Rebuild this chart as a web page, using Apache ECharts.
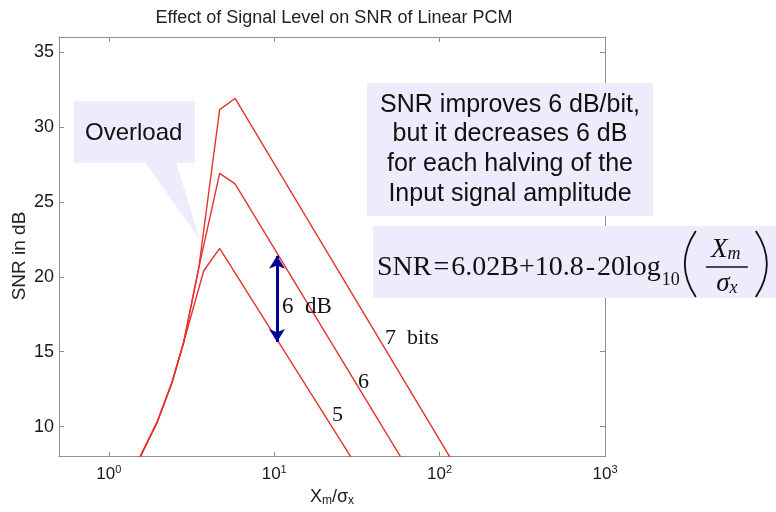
<!DOCTYPE html>
<html><head><meta charset="utf-8">
<script src="https://cdn.jsdelivr.net/npm/echarts@6/dist/echarts.min.js"></script>
<style>html,body{margin:0;padding:0;background:#fff}#c{width:776px;height:512px}</style>
</head><body><div id="c"></div>
<script>
// ---- data ----
const chartTitle = 'Effect of Signal Level on SNR of Linear PCM';
const yAxisTitle = 'SNR in dB';
const xRange = [0.5, 1000];
const yRange = [8, 36];
// 7-bit curve
const xRatio7 = [1.55, 1.96, 2.42, 2.84, 3.5, 4.68, 5.8, 115];
const snr7    = [8.0, 10.3, 13.0, 15.65, 20.6, 31.15, 31.9, 8.0];
// 6-bit curve
const xRatio6 = [1.55, 1.96, 2.42, 2.84, 3.5, 4.68, 5.8, 58];
const snr6    = [8.0, 10.3, 13.0, 15.65, 20.6, 26.9, 26.2, 8.0];
// 5-bit curve
const xRatio5 = [1.55, 1.96, 2.42, 2.84, 3.75, 4.68, 29];
const snr5    = [8.0, 10.3, 13.0, 15.65, 20.4, 21.9, 8.0];
// 6 dB arrow (x position, y from..to)
const arrowX = 10.4;
const arrowSpan = [21.4, 15.65];
const curveLabels = ['7\u2002bits', '6', '5'];
const noteLines = ['SNR improves 6 dB/bit,', 'but it decreases 6 dB', 'for each halving of the', 'Input signal amplitude'];
const overloadText = 'Overload';
const formulaParts = ['SNR', '=', '6.02B+10.8', '-', '20log'];

// ---- styling ----
const axisColor = '#909090';
const red = '#e8302e';
const boxFill = '#ececfc';
const fontSans = '"Liberation Sans", Arial, Helvetica, sans-serif';
const fontSerif = '"Liberation Serif", "Times New Roman", serif';

function pairs(xs, ys) { return xs.map((x, i) => [x, ys[i]]); }
function powLabel(v) {
  const l = Math.log10(v); const e = Math.round(l);
  if (Math.abs(l - e) > 1e-6) return '';
  return '{b|10}{s|' + e + '}';
}
function fiveLabel(v) { return Math.abs(v / 5 - Math.round(v / 5)) < 1e-9 ? String(v) : ''; }

const fSize = 28, opPad = 2;
const ctx = document.createElement('canvas').getContext('2d');
ctx.font = fSize + 'px ' + fontSerif;
const fW = ctx.measureText(formulaParts.join('')).width + 4 * opPad;
const fX = 377;
const fText = '{a|' + formulaParts[0] + '}{o|' + formulaParts[1] + '}{a|' + formulaParts[2] + '}{o|' + formulaParts[3] + '}{a|' + formulaParts[4] + '}';

const chart = echarts.init(document.getElementById('c'), null, {renderer: 'canvas'});
const baseX = {
  type: 'log', logBase: 10, min: xRange[0], max: xRange[1],
  axisLine: {show: true, lineStyle: {color: axisColor, width: 1}},
  axisTick: {show: true, inside: true, length: 5, lineStyle: {color: axisColor}},
  minorTick: {show: false}, splitLine: {show: false}, minorSplitLine: {show: false}
};
const baseY = {
  type: 'value', min: yRange[0], max: yRange[1], splitNumber: 5,
  axisLine: {show: true, lineStyle: {color: axisColor, width: 1}},
  axisTick: {show: true, inside: true, length: 5, lineStyle: {color: axisColor}},
  splitLine: {show: false}
};
const lineSeries = (name, xs, ys) => ({
  name, type: 'line', data: pairs(xs, ys), symbol: 'none', showSymbol: false,
  lineStyle: {color: red, width: 1.4}, itemStyle: {color: red}, clip: true, z: 3, silent: true
});
const s5 = lineSeries('5 bits', xRatio5, snr5);
s5.markLine = {
  silent: true, symbol: ['arrow', 'arrow'], symbolSize: [12, 13], animation: false,
  lineStyle: {color: '#000095', width: 3, type: 'solid'}, label: {show: false},
  data: [[{coord: [arrowX, arrowSpan[0]]}, {coord: [arrowX, arrowSpan[1]]}]]
};

const g = [];
// Overload callout
g.push({type: 'polygon', z: 1, shape: {points: [[145, 162], [176, 162], [200, 240]]}, style: {fill: boxFill}});
g.push({type: 'rect', z: 1, shape: {x: 74, y: 101, width: 121, height: 62}, style: {fill: boxFill}});
g.push({type: 'text', z: 1, x: 85, y: 133, style: {text: overloadText, font: '24px ' + fontSans, fill: '#111', align: 'left', verticalAlign: 'middle'}});
// note box
g.push({type: 'rect', z: 50, shape: {x: 367, y: 83, width: 286, height: 133}, style: {fill: boxFill}});
noteLines.forEach((t, i) => g.push({type: 'text', z: 51, x: 510, y: 105 + i * 29.6,
  style: {text: t, font: '25px ' + fontSans, fill: '#111', align: 'center', verticalAlign: 'middle'}}));
// formula box
g.push({type: 'rect', z: 50, shape: {x: 373, y: 226, width: 403, height: 72}, style: {fill: boxFill}});
g.push({type: 'text', z: 51, x: fX, y: 268, style: {text: fText, fill: '#111', align: 'left', verticalAlign: 'middle',
  rich: {a: {font: fSize + 'px ' + fontSerif, lineHeight: 30}, o: {font: fSize + 'px ' + fontSerif, lineHeight: 30, padding: [0, opPad, 0, opPad]}}}});
g.push({type: 'text', z: 51, x: fX + fW + 1, y: 280, style: {text: '10', font: '18px ' + fontSerif, fill: '#111', align: 'left', verticalAlign: 'middle'}});
const pL = fX + fW + 24;
const fracInk = {fill: '#111', align: 'center', verticalAlign: 'middle',
  rich: {i: {font: 'italic 27px ' + fontSerif, lineHeight: 27}, s: {font: 'italic 18px ' + fontSerif, verticalAlign: 'bottom', lineHeight: 16}}};
g.push({type: 'bezierCurve', z: 51, shape: {x1: pL + 11, y1: 231, x2: pL + 11, y2: 297, cpx1: pL - 11, cpy1: 264}, style: {stroke: '#111', lineWidth: 1.8, fill: null}});
g.push({type: 'text', z: 51, x: pL + 41, y: 250, style: Object.assign({text: '{i|X}{s|m}'}, fracInk)});
g.push({type: 'line', z: 51, shape: {x1: pL + 21, y1: 267, x2: pL + 63, y2: 267}, style: {stroke: '#111', lineWidth: 1.3}});
g.push({type: 'text', z: 51, x: pL + 42, y: 284, style: Object.assign({text: '{i|\u03c3}{s|x}'}, fracInk)});
g.push({type: 'bezierCurve', z: 51, shape: {x1: pL + 71, y1: 231, x2: pL + 71, y2: 297, cpx1: pL + 93, cpy1: 264}, style: {stroke: '#111', lineWidth: 1.8, fill: null}});
// curve labels
g.push({type: 'text', z: 5, x: 385, y: 338, style: {text: curveLabels[0], font: '22px ' + fontSerif, fill: '#111', verticalAlign: 'middle'}});
g.push({type: 'text', z: 5, x: 358, y: 382, style: {text: curveLabels[1], font: '22px ' + fontSerif, fill: '#111', verticalAlign: 'middle'}});
g.push({type: 'text', z: 5, x: 332, y: 415, style: {text: curveLabels[2], font: '22px ' + fontSerif, fill: '#111', verticalAlign: 'middle'}});
g.push({type: 'text', z: 5, x: 282, y: 307, style: {text: '6\u2002dB', font: '23px ' + fontSerif, fill: '#111', verticalAlign: 'middle'}});
// title and y name
g.push({type: 'text', z: 5, x: 334, y: 18, style: {text: chartTitle, font: '18px ' + fontSans, fill: '#222', align: 'center', verticalAlign: 'middle'}});
g.push({type: 'text', z: 5, x: 20, y: 256, rotation: Math.PI / 2, style: {text: yAxisTitle, font: '19px ' + fontSans, fill: '#222', align: 'center', verticalAlign: 'middle'}});

chart.setOption({
  animation: false,
  backgroundColor: '#fff',
  grid: {left: 59, right: 171, top: 37, bottom: 44, containLabel: false},
  xAxis: [
    Object.assign({}, baseX, {
      position: 'bottom',
      axisLabel: {formatter: powLabel, margin: 8, color: '#1a1a1a',
        rich: {b: {fontSize: 17, fontFamily: fontSans, lineHeight: 20, color: '#1a1a1a'},
               s: {fontSize: 11, fontFamily: fontSans, verticalAlign: 'top', lineHeight: 12, color: '#1a1a1a'}}},
      name: '{b|X}{s|m}{b|/\u03c3}{s|x}', nameLocation: 'middle', nameGap: 30,
      nameTextStyle: {rich: {b: {fontSize: 18, fontFamily: fontSans, lineHeight: 20, color: '#222'},
                             s: {fontSize: 12, fontFamily: fontSans, verticalAlign: 'bottom', lineHeight: 10, color: '#222'}}}
    }),
    Object.assign({}, baseX, {position: 'top', axisLabel: {show: false}})
  ],
  yAxis: [
    Object.assign({}, baseY, {position: 'left', axisLabel: {formatter: fiveLabel, margin: 5, fontSize: 18, fontFamily: fontSans, color: '#1a1a1a'}}),
    Object.assign({}, baseY, {position: 'right', axisLabel: {show: false}})
  ],
  graphic: {elements: g},
  series: [lineSeries('7 bits', xRatio7, snr7), lineSeries('6 bits', xRatio6, snr6), s5]
});
</script></body></html>
